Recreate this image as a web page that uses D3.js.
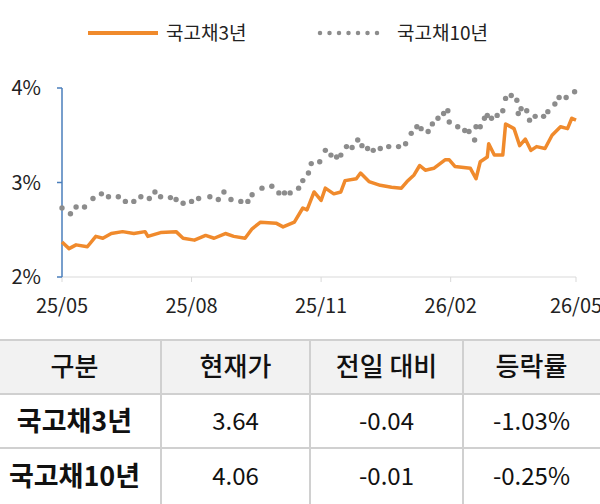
<!DOCTYPE html>
<html><head><meta charset="utf-8">
<script src="https://cdn.jsdelivr.net/npm/d3@7"></script>
<style>body{margin:0;background:#fff}svg{display:block;font-family:"Noto Sans CJK KR","Noto Sans",sans-serif}</style>
</head><body>
<svg width="600" height="504"></svg>
<script>
// [days since 2025-05-01, yield %]
const bond3y = [[0,2.37],[5,2.30],[10,2.34],[18,2.32],[24,2.43],[29,2.41],[35,2.46],[43,2.48],[51,2.46],[59,2.48],[61,2.43],[70,2.47],[81,2.48],[86,2.41],[94,2.39],[102,2.44],[108,2.41],[116,2.46],[122,2.43],[130,2.41],[135,2.51],[141,2.58],[152,2.57],[157,2.53],[165,2.58],[171,2.73],[174,2.71],[179,2.90],[184,2.81],[187,2.94],[193,2.88],[198,2.90],[201,3.02],[209,3.04],[212,3.10],[218,3.01],[226,2.97],[234,2.95],[241,2.94],[245,3.01],[250,3.08],[254,3.18],[258,3.13],[264,3.15],[272,3.24],[275,3.24],[279,3.17],[290,3.15],[294,3.04],[297,3.22],[302,3.27],[303,3.41],[307,3.29],[313,3.29],[315,3.62],[321,3.57],[325,3.39],[329,3.46],[333,3.34],[337,3.38],[343,3.36],[348,3.50],[354,3.59],[359,3.57],[362,3.68],[365,3.66]];
const bond10y = [[0,2.73],[6,2.67],[10,2.74],[16,2.74],[22,2.83],[28,2.88],[33,2.85],[40,2.85],[45,2.80],[51,2.80],[56,2.85],[62,2.83],[66,2.90],[70,2.85],[77,2.84],[81,2.82],[86,2.78],[92,2.80],[97,2.83],[105,2.85],[111,2.82],[115,2.90],[120,2.82],[127,2.80],[132,2.80],[135,2.87],[142,2.94],[149,2.96],[154,2.89],[158,2.89],[162,2.89],[168,2.94],[171,3.02],[175,3.10],[177,3.20],[183,3.22],[187,3.34],[191,3.29],[195,3.27],[198,3.29],[202,3.38],[206,3.37],[210,3.45],[213,3.39],[217,3.36],[221,3.34],[226,3.36],[232,3.38],[239,3.38],[244,3.41],[248,3.52],[252,3.59],[255,3.57],[260,3.54],[263,3.62],[267,3.68],[271,3.73],[274,3.76],[275,3.64],[281,3.59],[286,3.55],[289,3.54],[293,3.45],[294,3.59],[297,3.59],[300,3.68],[302,3.71],[305,3.68],[309,3.71],[313,3.76],[315,3.89],[319,3.92],[323,3.87],[324,3.73],[326,3.78],[330,3.76],[332,3.66],[336,3.70],[342,3.70],[345,3.75],[350,3.83],[353,3.90],[358,3.90],[364,3.96]];
const xTickLabels = ["25/05","25/08","25/11","26/02","26/05"];
const xTickDays = [0, 92, 184, 276, 365];
const yTicks = [2, 3, 4];
const legendNames = ["국고채3년","국고채10년"];
const tableHeader = ["구분","현재가","전일 대비","등락률"];
const tableRows = [["국고채3년","3.64","-0.04","-1.03%"],["국고채10년","4.06","-0.01","-0.25%"]];

const svg = d3.select("svg");
const orange = "#f08a2c", gray = "#8c8c8c";

const x = d3.scaleLinear().domain([0, 365]).range([62, 576]);
const y = d3.scaleLinear().domain([2, 4]).range([277, 88]);

// legend
svg.append("line").attr("x1", 88).attr("x2", 158).attr("y1", 33).attr("y2", 33)
  .attr("stroke", orange).attr("stroke-width", 4);
svg.append("text").attr("x", 166).attr("y", 40).text(legendNames[0]).style("font-size", 19).attr("fill", "#222");
svg.append("line").attr("x1", 320).attr("x2", 386).attr("y1", 33).attr("y2", 33)
  .attr("stroke", gray).attr("stroke-width", 4.5).attr("stroke-linecap", "round").attr("stroke-dasharray", "0,9.5");
svg.append("text").attr("x", 397).attr("y", 40).text(legendNames[1]).style("font-size", 19).attr("fill", "#222");

// axes
svg.append("line").attr("x1", 62).attr("x2", 576).attr("y1", y(2)).attr("y2", y(2)).attr("stroke", "#d9d9d9");
svg.selectAll(".xt").data(xTickDays).join("line")
  .attr("x1", d => x(d)).attr("x2", d => x(d)).attr("y1", y(2)).attr("y2", y(2) + 5).attr("stroke", "#d9d9d9");
svg.append("line").attr("x1", 62).attr("x2", 62).attr("y1", y(4)).attr("y2", y(2)).attr("stroke", "#4a7ebb").attr("stroke-width", 1.5);
svg.selectAll(".yt").data(yTicks).join("line")
  .attr("x1", 57).attr("x2", 62).attr("y1", d => y(d)).attr("y2", d => y(d)).attr("stroke", "#4a7ebb").attr("stroke-width", 1.5);
svg.selectAll(".yl").data(yTicks).join("text")
  .attr("x", 41).attr("y", d => y(d)).attr("dy", "0.35em").attr("text-anchor", "end")
  .style("font-size", 20).attr("fill", "#222").text(d => d + "%");
svg.selectAll(".xl").data(xTickDays).join("text")
  .attr("x", d => x(d)).attr("y", 313).attr("text-anchor", "middle")
  .style("font-size", 20).attr("fill", "#222").text((d, i) => xTickLabels[i]);

// series
svg.append("g").selectAll("circle").data(bond10y).join("circle")
  .attr("cx", d => x(d[0])).attr("cy", d => y(d[1])).attr("r", 2.7).attr("fill", gray);
svg.append("path").datum(bond3y)
  .attr("d", d3.line().x(d => x(d[0])).y(d => y(d[1])))
  .attr("fill", "none").attr("stroke", orange).attr("stroke-width", 3.5).attr("stroke-linejoin", "round");

// table
const colX = [0, 161, 310, 463, 600];
const rowY = [340, 394, 448, 504];
svg.append("rect").attr("x", 0).attr("y", rowY[0]).attr("width", 600).attr("height", rowY[1] - rowY[0]).attr("fill", "#f2f2f2");
svg.selectAll(".hl").data(rowY.slice(0, 3)).join("line")
  .attr("x1", 0).attr("x2", 600).attr("y1", d => d).attr("y2", d => d).attr("stroke", "#d0d0d0").attr("stroke-width", 2);
svg.selectAll(".vl").data(colX.slice(1, 4)).join("line")
  .attr("x1", d => d).attr("x2", d => d).attr("y1", rowY[0]).attr("y2", 504).attr("stroke", "#d0d0d0").attr("stroke-width", 2);
const allRows = [tableHeader, ...tableRows];
allRows.forEach((row, r) => {
  row.forEach((cell, c) => {
    svg.append("text")
      .attr("x", (colX[c] + colX[c + 1]) / 2 - (c === 0 ? 6 : 0))
      .attr("y", (rowY[r] + rowY[r + 1]) / 2).attr("dy", "0.36em")
      .attr("text-anchor", "middle")
      .style("font-size", r === 0 ? 26 : (c === 0 ? 27 : 24))
      .style("font-weight", r === 0 ? 500 : (c === 0 ? 700 : 400))
      .attr("fill", "#111").text(cell);
  });
});
</script>
</body></html>
